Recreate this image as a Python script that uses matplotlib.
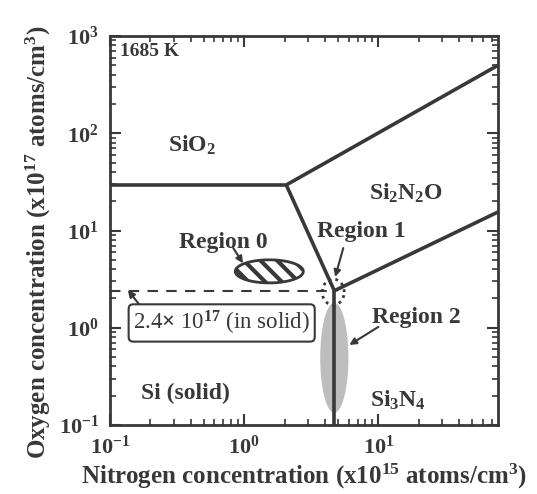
import numpy as np
import matplotlib
matplotlib.use('Agg')
import matplotlib.pyplot as plt
from matplotlib.ticker import FixedLocator, FixedFormatter, LogLocator, NullFormatter

plt.rcParams['font.family'] = ['Liberation Serif', 'DejaVu Serif']
plt.rcParams['font.weight'] = 'bold'
plt.rcParams['mathtext.fontset'] = 'custom'
plt.rcParams['mathtext.rm'] = 'Liberation Serif'
plt.rcParams['mathtext.bf'] = 'Liberation Serif:bold'
plt.rcParams['mathtext.it'] = 'Liberation Serif:italic'
plt.rcParams['hatch.linewidth'] = 3.0

ink = '#383838'

# phase boundaries, N in 1e15 atoms/cm3, O in 1e17 atoms/cm3
sio2_x = [0.1, 2.06]
sio2_y = [29.4, 29.4]
upper_x = [2.06, 78]
upper_y = [29.4, 500]
slant_x = [2.06, 4.7]
slant_y = [29.4, 2.4]
lower_x = [4.7, 78]
lower_y = [2.4, 15.5]
vert_x = [4.7, 4.7]
vert_y = [2.4, 0.1]
solid_x = [0.1, 4.7]
solid_y = [2.4, 2.4]

# regions: centre (N, O) and extent in decades (x, y)
region0 = (1.54, 3.8, 0.507, 0.237)
region1 = (4.61, 2.33, 0.164, 0.267)
region2 = (4.7, 0.49, 0.21, 1.13)

xticks = [0.1, 1, 10]
xlabels = [r'$\mathbf{10^{-1}}$', r'$\mathbf{10^{0}}$', r'$\mathbf{10^{1}}$']
yticks = [0.1, 1, 10, 100, 1000]
ylabels = [r'$\mathbf{10^{-1}}$', r'$\mathbf{10^{0}}$', r'$\mathbf{10^{1}}$',
           r'$\mathbf{10^{2}}$', r'$\mathbf{10^{3}}$']


def ellipse(cx, cy, wd, hd, n=200):
    t = np.linspace(0, 2 * np.pi, n)
    return 10 ** (np.log10(cx) + wd / 2 * np.cos(t)), 10 ** (np.log10(cy) + hd / 2 * np.sin(t))


fig = plt.figure(figsize=(5.37, 4.94), dpi=100)
ax = fig.add_axes([0.2048, 0.1397, 0.7226, 0.7874])
ax.set_xscale('log')
ax.set_yscale('log')
ax.set_xlim(0.1, 78)
ax.set_ylim(0.1, 1000)

# region 2 (shaded) under the lines
ex, ey = ellipse(*region2)
ax.fill(ex, ey, facecolor='#bdbdbd', edgecolor='none', zorder=1)

lw = 2.6
for xs, ys in [(sio2_x, sio2_y), (upper_x, upper_y), (slant_x, slant_y),
               (lower_x, lower_y), (vert_x, vert_y)]:
    ax.plot(xs, ys, color=ink, lw=lw, solid_capstyle='butt', zorder=3)
ax.plot(solid_x, solid_y, color=ink, lw=1.5, ls=(0, (5, 4)), zorder=2)

# region 0 (hatched)
ex, ey = ellipse(*region0)
ax.fill(ex, ey, facecolor='white', edgecolor=ink, hatch='\\\\', lw=2, zorder=3)

# region 1 (dotted)
ex, ey = ellipse(*region1)
ax.plot(ex, ey, color=ink, lw=2, ls=(0, (1, 1.5)), zorder=4)

tk = dict(color=ink, fontsize=17, fontweight='bold', ha='center', va='center')
ax.text(0.41, 75, r'SiO$_{\mathbf{2}}$', **tk)
ax.text(16.2, 24.3, r'Si$_{\mathbf{2}}$N$_{\mathbf{2}}$O', **tk)
ax.text(0.363, 0.213, 'Si (solid)', **tk)
ax.text(13.9, 0.18, r'Si$_{\mathbf{3}}$N$_{\mathbf{4}}$', **tk)
ax.text(0.70, 7.6, 'Region 0', **tk)
ax.text(7.46, 9.66, 'Region 1', **tk)
ax.text(19.2, 1.26, 'Region 2', **tk)
ax.text(0.026, 0.959, '1685 K', transform=ax.transAxes, color=ink, fontsize=14,
        fontweight='bold', ha='left', va='center')

arr = dict(arrowstyle='-|>', color=ink, lw=1.5, mutation_scale=10, shrinkA=0, shrinkB=0)
ax.annotate('', xy=(0.98, 4.6), xytext=(0.83, 6.6), arrowprops=arr)
ax.annotate('', xy=(4.77, 3.33), xytext=(5.48, 6.6), arrowprops=arr)
ax.annotate('', xy=(6.08, 0.665), xytext=(10, 1.02), arrowprops=arr)
ax.annotate('', xy=(0.136, 2.44), xytext=(0.173, 1.6), arrowprops=arr)

ax.text(0.149, 1.12, r'2.4$\times$ 10$^{17}$ (in solid)', color=ink, fontsize=16.5,
        fontweight='normal', ha='left', va='center', zorder=5,
        bbox=dict(boxstyle='round,pad=0.2', fc='white', ec=ink, lw=1.5))

ax.xaxis.set_major_locator(FixedLocator(xticks))
ax.xaxis.set_major_formatter(FixedFormatter(xlabels))
ax.yaxis.set_major_locator(FixedLocator(yticks))
ax.yaxis.set_major_formatter(FixedFormatter(ylabels))
ax.xaxis.set_minor_locator(LogLocator(base=10, subs=np.arange(2, 10)))
ax.yaxis.set_minor_locator(LogLocator(base=10, subs=np.arange(2, 10)))
ax.xaxis.set_minor_formatter(NullFormatter())
ax.yaxis.set_minor_formatter(NullFormatter())
ax.tick_params(which='both', direction='in', top=True, right=True, color=ink,
               labelcolor=ink, labelsize=16)
ax.tick_params(which='major', length=8, width=1.5, pad=8)
ax.tick_params(which='minor', length=4, width=1.2)
for s in ax.spines.values():
    s.set_linewidth(2)
    s.set_color(ink)

ax.set_xlabel(r'Nitrogen concentration (x10$^{\mathbf{15}}$ atoms/cm$^{\mathbf{3}}$)',
              fontsize=18, fontweight='bold', color=ink, labelpad=2)
ax.set_ylabel(r'Oxygen concentration (x10$^{\mathbf{17}}$ atoms/cm$^{\mathbf{3}}$)',
              fontsize=18, fontweight='bold', color=ink, labelpad=4)
ax.yaxis.label.set_y(0.47)

fig.savefig('out.png', dpi=100)
